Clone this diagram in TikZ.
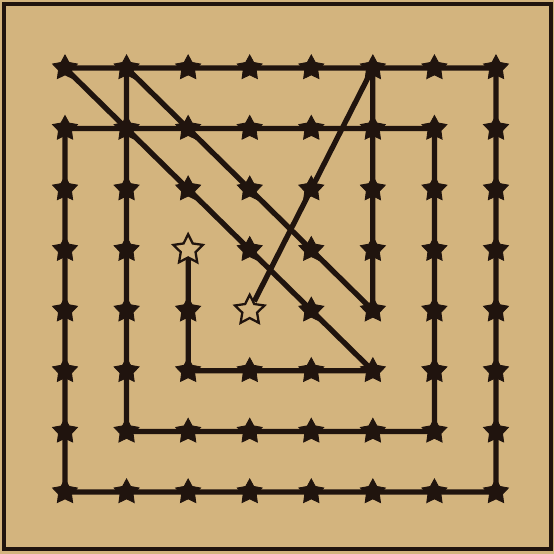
\documentclass[tikz,border=0pt]{standalone}
\usetikzlibrary{shapes.geometric}

\definecolor{paper}{RGB}{211,180,126}
\definecolor{ink}{RGB}{32,20,14}

\tikzset{
  dot/.style={star,star points=5,star point ratio=1.9,minimum size=0.52cm,inner sep=0pt,fill=ink,draw=ink,line width=0.5pt},
  hollow/.style={star,star points=5,star point ratio=2.0,minimum size=0.62cm,inner sep=0pt,fill=paper,draw=ink,line width=1.3pt},
  route/.style={ink,line width=3pt,line join=round}
}

\begin{document}
\begin{tikzpicture}
\def\dx{1.2314}
\def\dy{1.2114}
\fill[paper] (0,0) rectangle (11.08,-11.08);
\useasboundingbox (0,0) rectangle (11.08,-11.08);
\draw[ink,line width=1.8pt] (0.08,-0.08) rectangle (11.02,-10.98);

% the 8 x 8 stars, s<row><col>
\foreach \r in {1,...,8}{
  \foreach \c in {1,...,8}{
    \ifnum\r\c=43
      \node[hollow] (s\r\c) at ({1.3+\dx*(\c-1)},{-1.36-\dy*(\r-1)}) {};
    \else\ifnum\r\c=54
      \node[hollow] (s\r\c) at ({1.3+\dx*(\c-1)},{-1.36-\dy*(\r-1)}) {};
    \else
      \node[dot] (s\r\c) at ({1.3+\dx*(\c-1)},{-1.36-\dy*(\r-1)}) {};
    \fi\fi
  }
}

\draw[route] (s43) -- (s63.center) -- (s66.center) -- (s11.center)
  -- (s18.center) -- (s88.center) -- (s81.center) -- (s21.center)
  -- (s27.center) -- (s77.center) -- (s72.center) -- (s12.center)
  -- (s56.center) -- (s16.center) -- (s54);
\end{tikzpicture}
\end{document}
